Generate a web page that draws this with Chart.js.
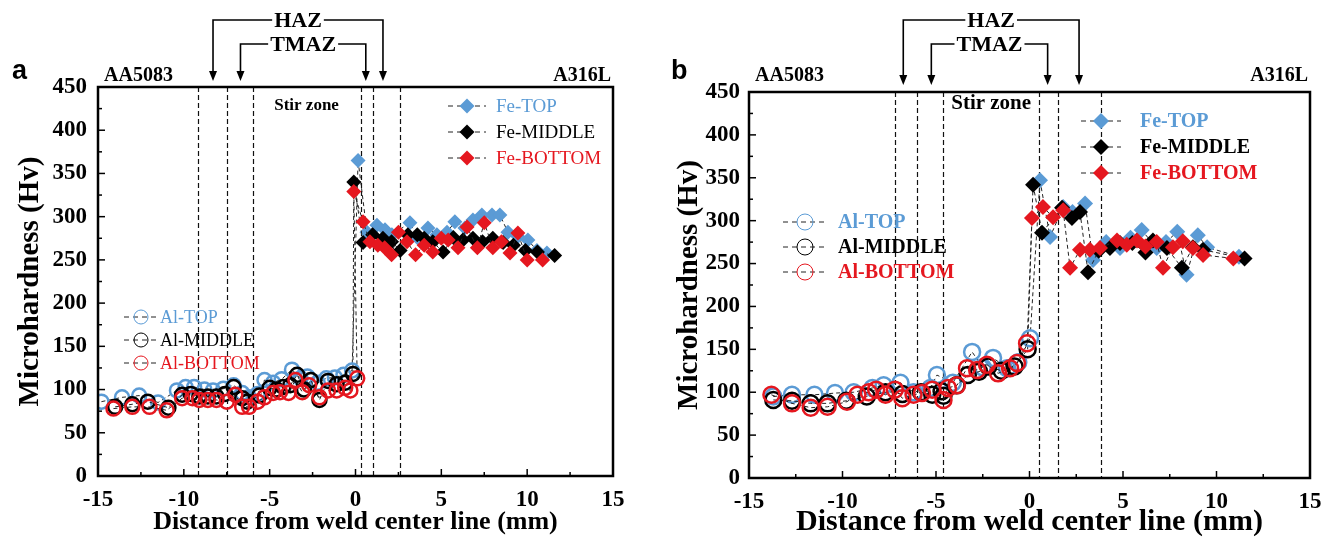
<!DOCTYPE html>
<html>
<head>
<meta charset="utf-8">
<script src="https://cdn.jsdelivr.net/npm/chart.js@4.4.0/dist/chart.umd.min.js"></script>
<style>
  html, body { margin: 0; padding: 0; background: #fff; }
  #wrap { position: relative; width: 1335px; height: 549px; }
  canvas { position: absolute; top: 0; }
  #chartA { left: 0; }
  #chartB { left: 667px; }
</style>
</head>
<body>
<div id="wrap">
  <canvas id="chartA" width="667" height="549"></canvas>
  <canvas id="chartB" width="668" height="549"></canvas>
</div>
<script>
// ---- panel a data ----
const alTopAx = [-14.8,-13.6,-12.6,-11.5,-10.4,-9.9,-9.4,-8.8,-8.3,-7.7,-7.1,-6.6,-6.2,-5.7,-5.3,-4.8,-4.3,-3.7,-3.2,-2.8,-2.2,-1.7,-1.2,-0.7,-0.2];
const alTopA  = [86,91,93,85,99,103,103,100,99,101,105,96,91,95,111,108,112,123,113,115,108,113,114,117,122];
const alMidAx = [-14.0,-13.0,-12.1,-10.9,-10.1,-9.6,-9.1,-8.6,-8.1,-7.6,-7.1,-6.6,-6.3,-5.6,-5.0,-4.6,-4.2,-3.8,-3.4,-3.0,-2.6,-2.1,-1.6,-1.1,-0.6,-0.15];
const alMidA  = [80,83,86,79,94,95,92,92,92,95,103,90,86,93,102,100,103,105,117,100,111,88,110,106,108,118];
const alBotAx = [-14.1,-13.0,-12.0,-11.0,-10.1,-9.5,-9.1,-8.6,-8.1,-7.5,-7.0,-6.6,-6.2,-5.7,-5.3,-4.8,-4.4,-3.9,-3.5,-3.1,-2.7,-2.1,-1.6,-1.1,-0.6,-0.3,0.1];
const alBotA  = [78,80,80,76,90,90,88,88,88,86,94,80,80,86,91,96,97,96,111,97,105,91,99,99,102,99,113];

const feTopAx = [0.15,0.67,1.25,1.72,2.12,3.17,3.64,4.22,4.74,5.33,5.79,6.37,6.84,7.36,7.95,8.41,8.88,9.46,10.04,10.57,11.15];
const feTopA  = [365,282,290,285,279,293,275,287,279,282,294,287,296,302,302,302,282,277,273,261,258];
const feMidAx = [-0.1,0.44,1.0,1.6,2.1,2.6,3.05,3.6,4.0,4.5,5.1,5.7,6.26,6.84,7.4,8.0,8.6,9.2,9.9,10.6,11.6];
const feMidA  = [340,270,279,275,271,261,279,279,275,271,259,276,273,275,271,275,270,267,261,259,255];
const feBotAx = [-0.1,0.44,0.84,1.3,1.7,2.1,2.5,3.0,3.5,4.0,4.5,5.0,5.4,5.97,6.5,7.1,7.5,8.0,8.5,9.0,9.46,10.0,10.9];
const feBotA  = [329,294,271,267,264,256,282,271,256,267,259,275,273,264,288,264,293,264,271,258,281,250,250];

const zonesA = [-9.2, -7.5, -6.0, 0.3, 1.0, 2.6];
const hazA  = [-8.3, 1.6];
const tmazA = [-6.7, 0.6];

// ---- panel b data ----
const alTopBx = [-13.7,-12.7,-11.5,-10.4,-9.4,-8.4,-7.8,-6.9,-6.2,-5.3,-4.95,-4.1,-3.07,-2.5,-1.95,-1.2,-0.6,0.03];
const alTopB  = [95,97,97,99,100,105,108,111,100,105,120,111,147,129,140,128,135,163];
const alMidBx = [-13.7,-12.7,-11.7,-10.8,-9.8,-8.7,-7.7,-6.8,-5.8,-5.2,-4.7,-4.6,-3.9,-3.3,-2.7,-2.2,-1.5,-0.8,-0.1];
const alMidB  = [91,90,87,87,90,95,100,98,100,97,101,96,108,120,124,130,125,130,150];
const alBotBx = [-13.8,-12.7,-11.7,-10.8,-9.76,-9.2,-8.6,-8.2,-7.7,-7.2,-6.8,-6.2,-5.75,-5.2,-4.6,-4.36,-3.88,-3.34,-2.8,-2.27,-1.68,-1.04,-0.67,-0.13];
const alBotB  = [97,87,82,83,89,97,100,103,97,103,93,97,99,103,91,105,108,128,126,132,122,128,134,157];

const feTopBx = [0.56,1.1,1.8,2.3,2.97,3.4,4.1,4.84,5.4,6.0,6.8,7.3,7.9,8.4,9.0,9.5,11.2];
const feTopB  = [347,281,316,310,320,254,275,268,280,289,268,275,287,237,283,269,258];
const feMidBx = [0.19,0.67,1.74,2.27,2.7,3.13,3.7,4.3,4.84,5.5,6.2,6.6,7.35,8.15,8.74,9.28,11.5];
const feMidB  = [342,286,315,303,310,240,265,268,274,274,263,277,268,245,269,266,256];
const feBotBx = [0.13,0.72,1.26,1.8,2.17,2.7,3.23,3.77,4.68,5.2,5.75,6.2,6.8,7.14,7.67,8.2,8.74,9.28,10.9];
const feBotB  = [303,316,304,312,245,266,266,268,277,272,277,270,275,245,269,276,268,260,256];

const zonesB = [-7.2, -6.0, -4.6, 0.5, 1.55, 3.85];
const hazB  = [-6.75, 2.65];
const tmazB = [-5.25, 0.97];

const xTicks = [-15, -10, -5, 0, 5, 10, 15];
const yTicks = [0, 50, 100, 150, 200, 250, 300, 350, 400, 450];

const BLUE = '#5b9bd5', RED = '#e5171f', BLACK = '#000';
const SERIF = '"Liberation Serif", "Times New Roman", serif';
const LINE = '#222';

function pts(xs, ys) { return xs.map((x, i) => ({ x: x, y: ys[i] })); }

function series(label, xs, ys, color, style, r) {
  return {
    label: label,
    data: pts(xs, ys),
    showLine: true,
    borderColor: LINE,
    borderWidth: 1,
    borderDash: [4, 3],
    pointStyle: style,
    pointRadius: r,
    pointBorderColor: color,
    pointBorderWidth: style === 'circle' ? 2.5 : 0,
    pointBackgroundColor: style === 'circle' ? 'rgba(255,255,255,0)' : color,
    legendColor: color
  };
}

// dashed joint from last Al point to first Fe point
function joint(alXs, alYs, feXs, feYs) {
  const n = alXs.length - 1;
  return {
    label: '',
    data: [{ x: alXs[n], y: alYs[n] }, { x: feXs[0], y: feYs[0] }],
    showLine: true, borderColor: LINE, borderWidth: 1, borderDash: [4, 3],
    pointRadius: 0
  };
}

function decor(p) {
  return {
    id: 'decor',
    beforeDatasetsDraw(chart) {
      const { ctx, chartArea: a, scales: { x } } = chart;
      ctx.save();
      ctx.strokeStyle = '#111';
      ctx.lineWidth = 1.2;
      ctx.setLineDash([5, 3]);
      p.zones.forEach(v => {
        const px = Math.round(x.getPixelForValue(v)) + 0.5;
        ctx.beginPath(); ctx.moveTo(px, a.top); ctx.lineTo(px, a.bottom); ctx.stroke();
      });
      ctx.restore();
    },
    afterDraw(chart) {
      const { ctx, chartArea: a, scales: { x, y } } = chart;
      ctx.save();
      // frame
      ctx.strokeStyle = '#000';
      ctx.lineWidth = 2.5;
      ctx.strokeRect(a.left, a.top, a.right - a.left, a.bottom - a.top);
      // inner ticks
      ctx.lineWidth = 1.5;
      for (let v = 0; v <= 450; v += 25) {
        const py = y.getPixelForValue(v);
        const len = v % 50 === 0 ? 7 : 4;
        ctx.beginPath(); ctx.moveTo(a.left, py); ctx.lineTo(a.left + len, py); ctx.stroke();
      }
      for (let v = -15; v <= 15; v += 2.5) {
        const px = x.getPixelForValue(v);
        const len = v % 5 === 0 ? 7 : 4;
        ctx.beginPath(); ctx.moveTo(px, a.bottom); ctx.lineTo(px, a.bottom - len); ctx.stroke();
      }

      // labels above the frame
      ctx.fillStyle = '#000';
      ctx.textBaseline = 'middle';
      ctx.font = 'bold 20px ' + SERIF;
      ctx.textAlign = 'left';
      ctx.fillText('AA5083', a.left + 6, p.matY);
      ctx.textAlign = 'right';
      ctx.fillText('A316L', a.right - 2, p.matY);
      ctx.textAlign = 'center';
      ctx.font = 'bold ' + p.stirSize + 'px ' + SERIF;
      const sz = (x.getPixelForValue(p.zones[2]) + x.getPixelForValue(p.zones[3])) / 2;
      ctx.fillText('Stir zone', sz, p.stirY);
      ctx.font = 'bold 27px "Liberation Sans", Arial, sans-serif';
      ctx.textAlign = 'left';
      ctx.fillText(p.letter, p.letterX, p.letterY);

      // HAZ / TMAZ brackets
      bracket(ctx, x.getPixelForValue(p.haz[0]), x.getPixelForValue(p.haz[1]), p.hazY, p.tipY, 'HAZ');
      bracket(ctx, x.getPixelForValue(p.tmaz[0]), x.getPixelForValue(p.tmaz[1]), p.tmazY, p.tipY, 'TMAZ');

      // legends
      p.legends.forEach(lg => {
        lg.items.forEach((idx, k) => {
          const ds = chart.data.datasets[idx];
          const cy = lg.y + k * lg.dy;
          ctx.strokeStyle = LINE;
          ctx.lineWidth = 1;
          ctx.setLineDash([5, 4]);
          ctx.beginPath(); ctx.moveTo(lg.x0, cy); ctx.lineTo(lg.x1, cy); ctx.stroke();
          ctx.setLineDash([]);
          ctx.fillStyle = ds.pointBackgroundColor;
          ctx.strokeStyle = ds.pointBorderColor;
          Chart.helpers.drawPoint(ctx, {
            pointStyle: ds.pointStyle, radius: ds.pointRadius,
            borderWidth: ds.pointBorderWidth, rotation: 0
          }, lg.mx, cy);
          ctx.fillStyle = ds.legendColor;
          ctx.font = lg.font;
          ctx.textAlign = 'left';
          ctx.textBaseline = 'middle';
          ctx.fillText(ds.label, lg.tx, cy + 1);
        });
      });
      ctx.restore();
    }
  };
}

function bracket(ctx, xl, xr, yLine, yTip, text) {
  ctx.save();
  ctx.font = 'bold 22px ' + SERIF;
  ctx.fillStyle = '#000';
  ctx.strokeStyle = '#000';
  ctx.lineWidth = 1.6;
  ctx.textAlign = 'center';
  ctx.textBaseline = 'middle';
  const cx = (xl + xr) / 2;
  const w = ctx.measureText(text).width;
  ctx.fillText(text, cx, yLine + 1);
  ctx.beginPath();
  ctx.moveTo(xl, yTip - 8); ctx.lineTo(xl, yLine); ctx.lineTo(cx - w / 2 - 2, yLine);
  ctx.moveTo(cx + w / 2 + 2, yLine); ctx.lineTo(xr, yLine); ctx.lineTo(xr, yTip - 8);
  ctx.stroke();
  [xl, xr].forEach(px => {
    ctx.beginPath();
    ctx.moveTo(px - 4, yTip - 10); ctx.lineTo(px + 4, yTip - 10); ctx.lineTo(px, yTip);
    ctx.closePath(); ctx.fill();
  });
  ctx.restore();
}

function makeChart(id, datasets, p) {
  return new Chart(document.getElementById(id), {
    type: 'scatter',
    data: { datasets: datasets },
    plugins: [decor(p)],
    options: {
      responsive: false,
      animation: false,
      events: [],
      layout: { padding: { top: p.top, right: p.right, left: 0, bottom: 0 } },
      plugins: { legend: { display: false }, tooltip: { enabled: false } },
      scales: {
        x: {
          type: 'linear', min: -15, max: 15,
          afterBuildTicks: s => { s.ticks = xTicks.map(v => ({ value: v })); },
          afterFit: s => { s.height = p.xH; },
          grid: { display: false, drawTicks: false },
          border: { display: false },
          ticks: { color: '#000', padding: p.xPad, font: { family: SERIF, size: 23, weight: 'bold' } },
          title: {
            display: true, text: 'Distance from weld center line (mm)', color: '#000',
            font: { family: SERIF, size: p.xTitleSize, weight: 'bold' },
            padding: { top: 0, bottom: p.xTitlePad }
          }
        },
        y: {
          type: 'linear', min: 0, max: 450,
          afterBuildTicks: s => { s.ticks = yTicks.map(v => ({ value: v })); },
          afterFit: s => { s.width = p.yW; },
          grid: { display: false, drawTicks: false },
          border: { display: false },
          ticks: { color: '#000', padding: p.yPad, font: { family: SERIF, size: 23, weight: 'bold' } },
          title: {
            display: true, text: 'Microhardness (Hv)', color: '#000',
            font: { family: SERIF, size: p.yTitleSize, weight: 'bold' },
            padding: { top: p.yTitlePad, bottom: 0 }
          }
        }
      }
    }
  });
}

// dataset order: first drawn last (on top)
const dsA = [
  series('Fe-BOTTOM', feBotAx, feBotA, RED, 'rectRot', 7.5),
  series('Fe-MIDDLE', feMidAx, feMidA, BLACK, 'rectRot', 7.5),
  series('Fe-TOP', feTopAx, feTopA, BLUE, 'rectRot', 7.5),
  series('Al-BOTTOM', alBotAx, alBotA, RED, 'circle', 7),
  series('Al-MIDDLE', alMidAx, alMidA, BLACK, 'circle', 7),
  series('Al-TOP', alTopAx, alTopA, BLUE, 'circle', 7),
  joint(alTopAx, alTopA, feTopAx, feTopA),
  joint(alMidAx, alMidA, feMidAx, feMidA),
  joint(alBotAx, alBotA, feBotAx, feBotA)
];

const dsB = [
  series('Fe-BOTTOM', feBotBx, feBotB, RED, 'rectRot', 8),
  series('Fe-MIDDLE', feMidBx, feMidB, BLACK, 'rectRot', 8),
  series('Fe-TOP', feTopBx, feTopB, BLUE, 'rectRot', 8),
  series('Al-BOTTOM', alBotBx, alBotB, RED, 'circle', 8),
  series('Al-MIDDLE', alMidBx, alMidB, BLACK, 'circle', 8),
  series('Al-TOP', alTopBx, alTopB, BLUE, 'circle', 8),
  joint(alTopBx, alTopB, feTopBx, feTopB),
  joint(alMidBx, alMidB, feMidBx, feMidB),
  joint(alBotBx, alBotB, feBotBx, feBotB)
];

makeChart('chartA', dsA, {
  top: 87, right: 54, xH: 73, yW: 98, xPad: 10, yPad: 11,
  xTitleSize: 26, yTitleSize: 29, xTitlePad: 11, yTitlePad: 13,
  zones: zonesA, haz: hazA, tmaz: tmazA,
  hazY: 20, tmazY: 44, tipY: 81, matY: 76, stirY: 106, stirSize: 17,
  letter: 'a', letterX: 12, letterY: 72,
  legends: [
    { items: [2, 1, 0], x0: 448, x1: 486, mx: 467, tx: 496, y: 106, dy: 26, font: '19px ' + SERIF },
    { items: [5, 4, 3], x0: 124, x1: 158, mx: 141, tx: 160, y: 317, dy: 23, font: '18px ' + SERIF }
  ]
});

makeChart('chartB', dsB, {
  top: 92, right: 25, xH: 71, yW: 82, xPad: 10, yPad: 9,
  xTitleSize: 30, yTitleSize: 29, xTitlePad: 9, yTitlePad: 5,
  zones: zonesB, haz: hazB, tmaz: tmazB,
  hazY: 20, tmazY: 44, tipY: 85, matY: 76, stirY: 104, stirSize: 21,
  letter: 'b', letterX: 4, letterY: 72,
  legends: [
    { items: [2, 1, 0], x0: 414, x1: 454, mx: 434, tx: 473, y: 121, dy: 26, font: 'bold 20px ' + SERIF },
    { items: [5, 4, 3], x0: 116, x1: 160, mx: 138, tx: 171, y: 222, dy: 25, font: 'bold 20px ' + SERIF }
  ]
});
</script>
</body>
</html>
